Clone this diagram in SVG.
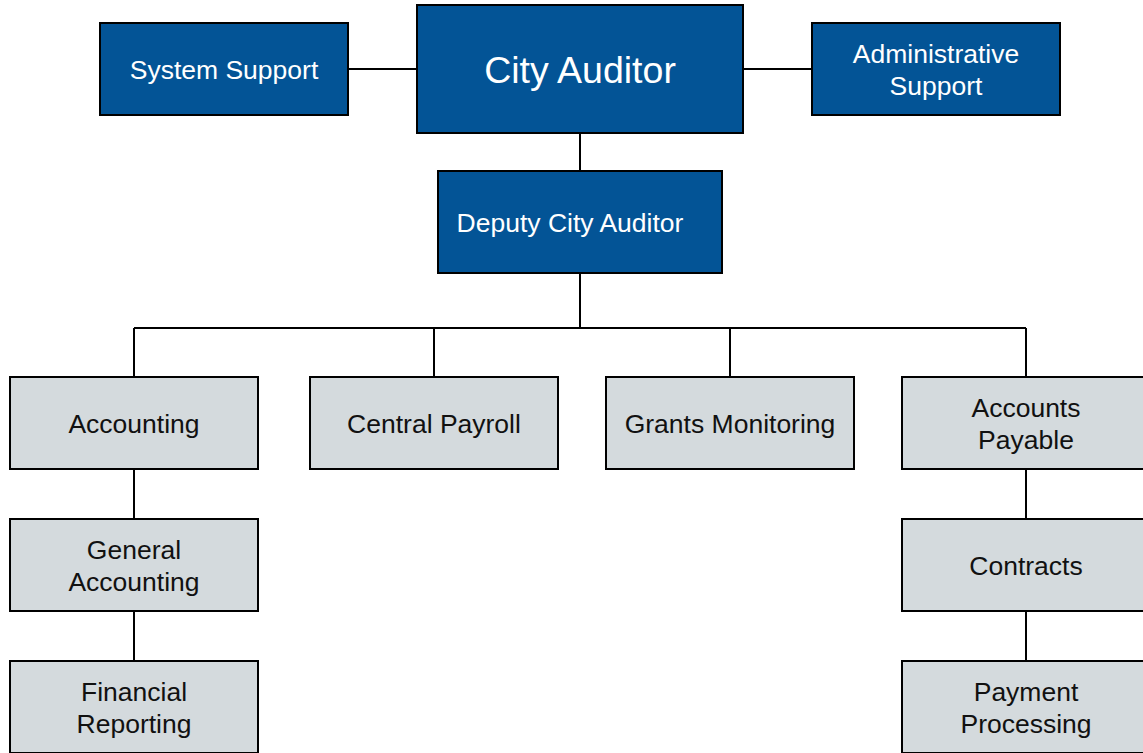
<svg xmlns="http://www.w3.org/2000/svg" width="1143" height="753" viewBox="0 0 1143 753">
<style>
.b{fill:#035496;stroke:#000;stroke-width:2}
.g{fill:#d4dadd;stroke:#000;stroke-width:2}
.tw{fill:#fff;font-family:"Liberation Sans",Arial,sans-serif;font-size:26.5px;text-anchor:middle}
.tk{fill:#111;font-family:"Liberation Sans",Arial,sans-serif;font-size:26.5px;text-anchor:middle}
.c{stroke:#000;stroke-width:2;fill:none}
</style>
<rect width="1143" height="753" fill="#fff"/>
<g id="connectors">
<path class="c" d="M348 69H417M743 69H812M580 133V171M580 273V328M134 328H1026M134 328V377M434 328V377M730 328V377M1026 328V377M134 469V519M134 611V661M1026 469V519M1026 611V661"/>
</g>
<g id="system-support"><rect class="b" x="100" y="23" width="248" height="92"/><text class="tw" x="224" y="79">System Support</text></g>
<g id="city-auditor"><rect class="b" x="417" y="5" width="326" height="128"/><text class="tw" x="580" y="83" style="font-size:37.5px">City Auditor</text></g>
<g id="administrative-support"><rect class="b" x="812" y="23" width="248" height="92"/><text class="tw" x="936" y="63">Administrative</text><text class="tw" x="936" y="95">Support</text></g>
<g id="deputy-city-auditor"><rect class="b" x="438" y="171" width="284" height="102"/><text class="tw" x="570" y="232">Deputy City Auditor</text></g>
<g id="accounting"><rect class="g" x="10" y="377" width="248" height="92"/><text class="tk" x="134" y="433">Accounting</text></g>
<g id="central-payroll"><rect class="g" x="310" y="377" width="248" height="92"/><text class="tk" x="434" y="433">Central Payroll</text></g>
<g id="grants-monitoring"><rect class="g" x="606" y="377" width="248" height="92"/><text class="tk" x="730" y="433">Grants Monitoring</text></g>
<g id="accounts-payable"><rect class="g" x="902" y="377" width="248" height="92"/><text class="tk" x="1026" y="417">Accounts</text><text class="tk" x="1026" y="449">Payable</text></g>
<g id="general-accounting"><rect class="g" x="10" y="519" width="248" height="92"/><text class="tk" x="134" y="559">General</text><text class="tk" x="134" y="591">Accounting</text></g>
<g id="contracts"><rect class="g" x="902" y="519" width="248" height="92"/><text class="tk" x="1026" y="575">Contracts</text></g>
<g id="financial-reporting"><rect class="g" x="10" y="661" width="248" height="92"/><text class="tk" x="134" y="701">Financial</text><text class="tk" x="134" y="733">Reporting</text></g>
<g id="payment-processing"><rect class="g" x="902" y="661" width="248" height="92"/><text class="tk" x="1026" y="701">Payment</text><text class="tk" x="1026" y="733">Processing</text></g>
</svg>
